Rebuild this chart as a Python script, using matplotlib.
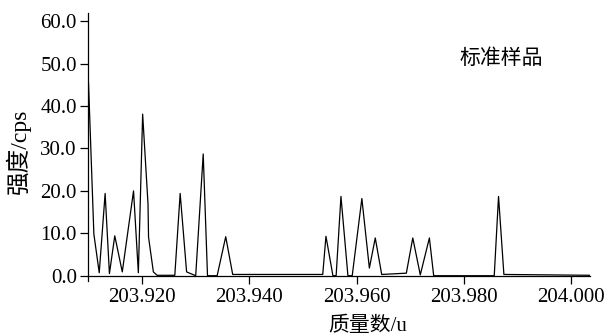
import matplotlib
matplotlib.use('Agg')
import matplotlib.pyplot as plt

# mass (u) and intensity (cps)
mass = [203.9100, 203.9110, 203.9120, 203.9131, 203.9139, 203.9149, 203.9163,
        203.9184, 203.9193, 203.9201, 203.9211, 203.9212, 203.9221, 203.9228,
        203.9261, 203.9271, 203.9283, 203.9300, 203.9314, 203.9322, 203.9340,
        203.9356, 203.9369, 203.9537, 203.9543, 203.9556, 203.9562, 203.9571,
        203.9584, 203.9592, 203.9610, 203.9624, 203.9635, 203.9647, 203.9693,
        203.9705, 203.9719, 203.9736, 203.9744, 203.9857, 203.9865, 203.9875,
        204.0037]
intensity = [45.4, 9.8, 0.7, 19.4, 0.5, 9.4, 0.9,
             20.0, 0.7, 38.1, 16.9, 9.1, 0.9, 0.1,
             0.1, 19.4, 0.9, 0.0, 28.7, 0.0, 0.0,
             9.2, 0.3, 0.3, 9.3, 0.0, 0.0, 18.7,
             0.0, 0.0, 18.2, 1.8, 8.9, 0.3, 0.6,
             8.9, 0.2, 8.9, 0.0, 0.0, 18.7, 0.3,
             0.1]

x_ticks = [203.920, 203.940, 203.960, 203.980, 204.000]
y_ticks = [0, 10, 20, 30, 40, 50, 60]

serif = ['Liberation Serif', 'Noto Sans CJK SC']
plt.rcParams['font.family'] = serif

fig = plt.figure(figsize=(6.08, 3.36), dpi=100)
ax = fig.add_axes([0.1447, 0.163, 0.8260, 0.799])

ax.plot(mass, intensity, color='black', linewidth=0.9)

ax.set_xlim(203.9099, 204.0036)
ax.set_ylim(-1.3, 62)
ax.spines['bottom'].set_position(('data', 0))
ax.spines['top'].set_visible(False)
ax.spines['right'].set_visible(False)
for s in ['left', 'bottom']:
    ax.spines[s].set_linewidth(0.9)

ax.set_xticks(x_ticks)
ax.set_xticklabels(['%.3f' % v for v in x_ticks], fontsize=15)
ax.set_yticks(y_ticks)
ax.set_yticklabels(['%.1f' % v for v in y_ticks], fontsize=15)
ax.tick_params(direction='out', length=6, width=0.9)
ax.tick_params(axis='y', pad=2)
ax.tick_params(axis='x', pad=3)

fig.text(0.605, 0.03, '质量数/u', fontsize=15, ha='center', va='center',
         family=serif)
fig.text(0.030, 0.55, '强度/cps', fontsize=17, ha='center', va='center',
         rotation=90, family=serif)
ax.text(0.825, 0.825, '标准样品', transform=fig.transFigure, fontsize=15,
        ha='center', va='center', family=serif)

fig.savefig('out.png', dpi=100, facecolor='white')
